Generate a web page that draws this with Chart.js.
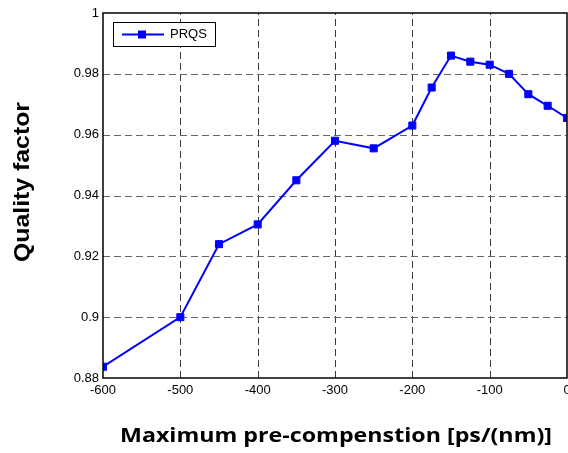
<!DOCTYPE html>
<html>
<head>
<meta charset="utf-8">
<script src="https://cdn.jsdelivr.net/npm/chart.js@4"></script>
<style>
  html, body { margin: 0; padding: 0; background: #fff; }
  #wrap { width: 568px; height: 453px; position: relative; }
</style>
</head>
<body>
<div id="wrap"><canvas id="c" width="568" height="453"></canvas></div>
<script>
// Pre-compensation values [ps/nm] and the measured quality factor
const preComp = [-600, -500, -450, -400, -350, -300, -250, -200, -175, -150, -125, -100, -75, -50, -25, 0];
const quality = [0.8837, 0.900, 0.924, 0.9305, 0.945, 0.958, 0.9555, 0.963, 0.9755, 0.986, 0.984, 0.983, 0.980, 0.9733, 0.9695, 0.9655];

const xTicks = [-600, -500, -400, -300, -200, -100, 0];
const xTickLabels = ['-600', '-500', '-400', '-300', '-200', '-100', '0'];
const yTicks = [0.88, 0.90, 0.92, 0.94, 0.96, 0.98, 1.00];
const yTickLabels = ['0.88', '0.9', '0.92', '0.94', '0.96', '0.98', '1'];

const seriesName = 'PRQS';
const xTitle = 'Maximum pre-compenstion [ps/(nm)]';
const yTitle = 'Quality factor';

const points = preComp.map((x, i) => ({ x: x, y: quality[i] }));

const tickFont = { family: '"Liberation Sans", Arial, sans-serif', size: 13 };

// Draws a title stretched to a given length along its own direction
function fitText(ctx, text, length) {
  const w = ctx.measureText(text).width;
  ctx.scale(length / w, 1);
  ctx.fillText(text, 0, 0);
}

// Frame, dashed grid, titles and the boxed legend
const framePlugin = {
  id: 'frame',
  beforeDatasetsDraw(chart) {
    const { ctx, chartArea: a, scales } = chart;
    ctx.save();
    ctx.lineWidth = 1;
    ctx.setLineDash([7, 4]);
    ctx.strokeStyle = '#3a3a3a';
    xTicks.forEach(v => {
      const px = Math.round(scales.x.getPixelForValue(v)) + 0.5;
      if (px <= a.left + 1 || px >= a.right - 1) return;
      ctx.beginPath(); ctx.moveTo(px, a.bottom); ctx.lineTo(px, a.top); ctx.stroke();
    });
    ctx.strokeStyle = '#666';
    yTicks.forEach(v => {
      const py = Math.round(scales.y.getPixelForValue(v)) + 0.5;
      if (py <= a.top + 1 || py >= a.bottom - 1) return;
      ctx.beginPath(); ctx.moveTo(a.left, py); ctx.lineTo(a.right, py); ctx.stroke();
    });
    ctx.restore();
  },
  afterDatasetsDraw(chart) {
    const { ctx, chartArea: a } = chart;
    ctx.save();
    // axes box
    ctx.strokeStyle = '#000';
    ctx.lineWidth = 1.5;
    ctx.setLineDash([]);
    ctx.strokeRect(a.left, a.top, a.right - a.left, a.bottom - a.top);

    // legend box
    const lx = 113, ly = 22, lw = 102, lh = 24;
    ctx.fillStyle = '#fff';
    ctx.fillRect(lx, ly, lw, lh);
    ctx.lineWidth = 1;
    ctx.strokeRect(lx + 0.5, ly + 0.5, lw, lh);
    const ds = chart.data.datasets[0];
    const my = ly + lh / 2 + 0.5;
    ctx.strokeStyle = ds.borderColor;
    ctx.lineWidth = ds.borderWidth;
    ctx.beginPath(); ctx.moveTo(lx + 9, my); ctx.lineTo(lx + 51, my); ctx.stroke();
    ctx.fillStyle = ds.pointBackgroundColor;
    ctx.fillRect(lx + 25, my - 4, 8, 8);
    ctx.fillStyle = '#000';
    ctx.font = '13px "Liberation Sans", Arial, sans-serif';
    ctx.textBaseline = 'middle';
    ctx.textAlign = 'left';
    ctx.fillText(ds.label, lx + 57, my);

    // axis titles
    ctx.textAlign = 'center';
    ctx.textBaseline = 'alphabetic';
    ctx.save();
    ctx.translate(336, 441.5);
    ctx.font = 'bold 20px "Open Sans", sans-serif';
    fitText(ctx, xTitle, 432);
    ctx.restore();

    ctx.save();
    ctx.translate(28.5, 182);
    ctx.rotate(-Math.PI / 2);
    ctx.font = 'bold 21.5px "Liberation Sans", Arial, sans-serif';
    fitText(ctx, yTitle, 160);
    ctx.restore();
    ctx.restore();
  }
};

new Chart(document.getElementById('c'), {
  type: 'line',
  data: {
    datasets: [{
      label: seriesName,
      data: points,
      borderColor: '#0000ff',
      backgroundColor: '#0000ff',
      pointBackgroundColor: '#0000ff',
      pointBorderColor: '#0000ff',
      borderWidth: 2,
      pointStyle: 'rect',
      pointRadius: 5,
      pointBorderWidth: 1,
      tension: 0,
      fill: false
    }]
  },
  options: {
    responsive: false,
    animation: false,
    devicePixelRatio: 1,
    layout: { autoPadding: false, padding: { top: 13, right: 1, left: 0, bottom: 0 } },
    plugins: {
      legend: { display: false },
      tooltip: { enabled: false }
    },
    scales: {
      x: {
        type: 'linear',
        min: -600, max: 0,
        afterBuildTicks(scale) { scale.ticks = xTicks.map(v => ({ value: v })); },
        afterFit(scale) {
          scale.height = 75;
          scale.paddingLeft = 0;
          scale.paddingRight = 0;
        },
        ticks: {
          font: tickFont, color: '#000', padding: 5, maxRotation: 0,
          callback: (v) => xTickLabels[xTicks.indexOf(v)]
        },
        grid: { display: false, drawTicks: false },
        border: { display: false }
      },
      y: {
        min: 0.88, max: 1.0,
        afterBuildTicks(scale) { scale.ticks = yTicks.map(v => ({ value: v })); },
        afterFit(scale) {
          scale.width = 103;
          scale.paddingTop = 0;
          scale.paddingBottom = 0;
        },
        ticks: {
          font: tickFont, color: '#000', padding: 4,
          callback: (v) => yTickLabels[yTicks.findIndex(t => Math.abs(t - v) < 1e-9)]
        },
        grid: { display: false, drawTicks: false },
        border: { display: false }
      }
    }
  },
  plugins: [framePlugin]
});
</script>
</body>
</html>
